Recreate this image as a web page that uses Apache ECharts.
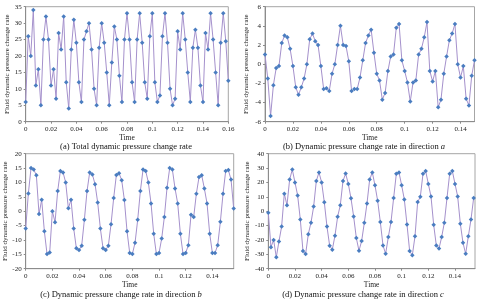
<!DOCTYPE html>
<html><head><meta charset="utf-8">
<script src="https://cdn.jsdelivr.net/npm/echarts@6/dist/echarts.min.js"></script>
<style>html,body{margin:0;padding:0;background:#fff}#c{width:480px;height:304px}</style>
</head><body><div id="c"></div>
<script>
// sampling step of time (s)
const dt = 0.002;
// (a) Total dynamic pressure change rate
const seriesA = [6,26,20,34,11,16,5,25,32,25,11,16,7,27,22,32,12,4,22,31,24,12,6,25,27.5,30,22,10,5,22.5,30,24,15,5,18,29,25,14,6,25,33,25,12,6,25,33,24,12,7,26,33,12,6,8,26,33,24,10,5,7,27.5,22,33,25,15,6,22.5,28,22.5,11,6,27,22,33,25,15,5,24,33,24.5,12.5];
// (b) direction a
const seriesB = [1.0,-1.5,-5.4,-2.2,-0.4,-0.2,2.2,3.0,2.8,1.6,-0.2,-2.4,-3.2,-2.4,-1.5,0.0,2.6,3.2,2.4,2.0,-0.2,-2.6,-2.5,-2.8,-1.0,0.0,2.0,4.0,2.0,1.9,0.3,-2.8,-2.6,-2.6,-1.4,0.4,2.2,3.0,3.6,1.2,-1.0,-1.7,-3.7,-3.0,-0.7,0.8,1.0,3.8,4.2,0.4,-0.7,-1.9,-3.9,-1.9,-1.7,1.0,1.6,2.8,4.4,-0.7,-1.8,-0.7,-4.5,-3.7,-1.0,0.8,2.5,3.2,4.2,0.0,-1.4,-0.2,-3.6,-4.3,-1.2,0.4];
// (c) direction b
const seriesC = [-6,6.2,15,14.5,12.5,-1,4,-7,-14.9,-14.4,0,-3.8,7,14,13.5,10,1,4,-6,-12.9,-13.5,-12,-3,7,13.5,12.8,9.4,3,-6,-12.9,-13.5,-12,-4.5,4.6,12.6,13.2,10.8,3.9,-7,-14.5,-14.9,-11,-3,7,14.5,14,10,2.7,-7.8,-14.9,-14.5,-9.5,-2,8.2,15,14.5,7.9,2.7,-7.8,-14.9,-14.5,-11.8,-1.2,-2,6.1,11.9,12.5,7.9,2.7,-7.8,-14.5,-14.5,-11.8,-3.7,6.1,14,14.3,11,0.9];
// (d) direction c
const seriesD = [-1,-25,-20,-32,-21,-10.7,12.2,4.2,22,29,20,11,-5.7,-27.7,-29.8,-16,-8,3.2,21,27,20,6.3,-10.7,-24,-26.8,-17,-3.8,4.2,21,26.2,19,9,-3.7,-18.6,-27.5,-20.7,-8.1,5.3,22,27,18,7.3,-7.5,-23.8,-29.6,-18,-7.5,9.2,26,27,18,8.2,-9.2,-27.7,-30.7,-17.5,6.4,10,26,28,19,10.3,-9.4,-23.8,-26,-18,-8,9.2,26,28,19,10.3,-8.7,-22,-29.6,-17.5,-5.7,9.2];

const yTicksA = {min:0,max:35,interval:5};
const yTicksB = {min:-6,max:6,interval:2};
const yTicksC = {min:-20,max:20,interval:5};
const yTicksD = {min:-40,max:40,interval:10};
const xMax = [0.16,0.15,0.156,0.155];

const yName = 'Fluid dynamic pressure change rate';
const xName = 'Time';
const captions = [
  ['(a) Total dynamic pressure change rate', ''],
  ['(b) Dynamic pressure change rate in direction ', 'a'],
  ['(c) Dynamic pressure change rate in direction ', 'b'],
  ['(d) Dynamic pressure change rate in direction ', 'c']
];

const FONT = 'Liberation Serif';
const grids = [
  {left:25.7, top:6.7, width:202.6, height:115},
  {left:265, top:6.7, width:209.5, height:115},
  {left:25.7, top:153.7, width:208, height:115},
  {left:268.3, top:153.7, width:206.7, height:115}
];
const capPos = [[126,146.5],[364,146.5],[121,295],[363,295]];
const yT = [yTicksA,yTicksB,yTicksC,yTicksD];
const data = [seriesA,seriesB,seriesC,seriesD];

const toPairs = arr => arr.map((v,i)=>[+(i*dt).toFixed(4), v]);

const option = {
  animation:false,
  backgroundColor:'#fff',
  grid: grids.map(g=>Object.assign({show:true,borderColor:'#a6a6a6',borderWidth:1,backgroundColor:'transparent'},g)),
  xAxis: grids.map((g,i)=>({
    type:'value', gridIndex:i, min:0, max:xMax[i], interval:0.02,
    name:xName, nameLocation:'middle', nameGap:10,
    nameTextStyle:{fontFamily:FONT,fontSize:7.5,color:'#222'},
    axisLine:{show:true,onZero:false,lineStyle:{color:'#8c8c8c',width:1}},
    axisTick:{show:true,length:2,lineStyle:{color:'#8c8c8c'}},
    splitLine:{show:false},
    axisLabel:{fontFamily:FONT,fontSize:7,color:'#222',margin:4,showMaxLabel:i===0}
  })),
  yAxis: grids.map((g,i)=>({
    type:'value', gridIndex:i, min:yT[i].min, max:yT[i].max, interval:yT[i].interval,
    name:yName, nameLocation:'middle', nameGap:i%2===0?15:15, nameRotate:90,
    nameTextStyle:{fontFamily:FONT,fontSize:7,color:'#222'},
    axisLine:{show:true,onZero:false,lineStyle:{color:'#8c8c8c',width:1}},
    axisTick:{show:true,length:2,lineStyle:{color:'#8c8c8c'}},
    splitLine:{show:false},
    axisLabel:{fontFamily:FONT,fontSize:7,color:'#222',margin:4}
  })),
  series: data.map((d,i)=>({
    type:'line', xAxisIndex:i, yAxisIndex:i, data:toPairs(d),
    symbol:'diamond', symbolSize:4.5, showAllSymbol:true,
    lineStyle:{color:'#a591cc',width:1},
    itemStyle:{color:'#4a7dc0'}
  })),
  graphic: captions.map((c,i)=>({
    type:'text', x:capPos[i][0], y:capPos[i][1],
    style:{
      text:'{n|'+c[0]+'}'+(c[1]?'{it|'+c[1]+'}':''),
      rich:{
        n:{fontFamily:FONT,fontSize:8.5,fill:'#111'},
        it:{fontFamily:FONT,fontSize:8.5,fontStyle:'italic',fill:'#111'}
      },
      textAlign:'center', textVerticalAlign:'middle'
    }
  }))
};
const chart = echarts.init(document.getElementById('c'), null, {renderer:'canvas'});
chart.setOption(option);
</script></body></html>
